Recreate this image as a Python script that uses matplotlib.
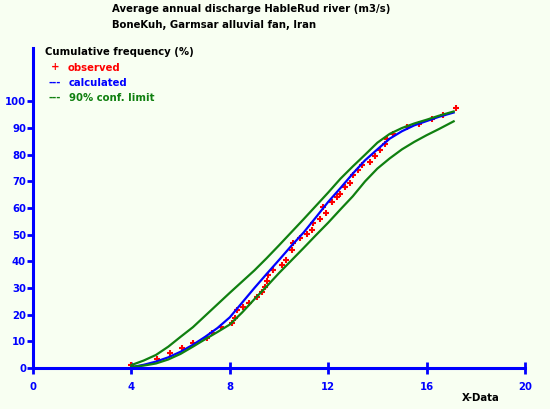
import numpy as np
import matplotlib
matplotlib.use("Agg")
import matplotlib.pyplot as plt

# observed cumulative frequencies (%)
obs_x = [4.0, 5.03, 5.57, 6.04, 6.52, 7.06, 7.26, 7.63, 8.08, 8.21, 8.28, 8.55,
         8.79, 9.09, 9.30, 9.43, 9.50, 9.57, 9.77, 10.11, 10.30, 10.52, 10.58,
         10.85, 11.13, 11.33, 11.39, 11.67, 11.80, 11.90, 12.14, 12.35, 12.48,
         12.68, 12.89, 13.02, 13.23, 13.36, 13.70, 13.90, 14.11, 14.30, 14.38,
         14.65, 15.19, 15.70, 16.20, 16.68, 17.20]
obs_y = [1.3, 3.2, 5.5, 7.4, 9.2, 11.1, 13.3, 15.3, 16.9, 18.6, 21.7, 23.0,
         24.5, 26.7, 28.6, 30.2, 32.5, 34.8, 36.7, 38.7, 40.4, 44.2, 46.7,
         48.6, 50.4, 51.7, 54.2, 56.0, 60.4, 58.2, 62.3, 64.2, 65.4,
         67.9, 69.3, 72.3, 74.2, 76.0, 77.3, 79.4, 81.6, 84.0, 86.0,
         87.9, 90.4, 91.4, 93.3, 95.0, 97.5]

# fitted curve and 90% confidence band
cx = [4, 4.5, 5, 5.5, 6, 6.5, 7, 7.5, 8, 8.5, 9, 9.5, 10, 10.5, 11, 11.5,
      12, 12.5, 13, 13.5, 14, 14.5, 15, 15.5, 16, 16.5, 17.1]
calc = [0.3, 1.2, 2.4, 4.0, 6.1, 8.7, 11.7, 15.0, 19.0, 24.5, 30.0, 35.3,
        40.5, 45.8, 50.8, 56.5, 62.3, 67.5, 72.9, 77.9, 82.0, 86.0, 88.8,
        91.0, 92.6, 94.2, 95.8]
upper = [1.1, 2.8, 4.9, 8.0, 11.7, 15.3, 19.6, 23.9, 28.2, 32.4, 36.6, 41.2,
         46.0, 50.9, 55.8, 60.8, 65.8, 71.0, 75.6, 80.0, 84.5, 87.8, 90.0,
         91.7, 93.1, 94.6, 96.2]
lower = [0.4, 0.9, 1.7, 3.2, 5.3, 8.0, 10.8, 13.5, 16.3, 20.8, 25.8, 30.6,
         35.6, 40.3, 45.0, 49.8, 54.5, 59.5, 64.4, 70.0, 74.8, 78.6, 82.0,
         84.8, 87.3, 89.6, 92.5]

xticks = [0, 4, 8, 12, 16, 20]
yticks = list(range(0, 101, 10))

bg = '#F8FFF2'
green = '#108010'
fs = 7.3

fig = plt.figure(figsize=(5.5, 4.09), dpi=100, facecolor=bg)
ax = fig.add_axes([33/550, 41/409, 492/550, 320/409], facecolor=bg)

# red under blue under green, as in the original
ax.plot(obs_x, obs_y, '+', color='#FF0000', ms=5, mew=1.5, clip_on=False)
ax.plot(cx, calc, color='#0000FF', lw=1.6)
ax.plot(cx, upper, color=green, lw=1.6)
ax.plot(cx, lower, color=green, lw=1.6)

ax.set_xlim(0, 20)
ax.set_ylim(0, 120)
for s in ['top', 'right']:
    ax.spines[s].set_visible(False)
for s in ['left', 'bottom']:
    ax.spines[s].set_color('#0000FF')
    ax.spines[s].set_linewidth(2.2)
ax.set_xticks(xticks)
ax.set_yticks(yticks)
ax.tick_params(axis='x', direction='inout', length=8, width=2, colors='#0000FF',
               labelsize=fs, pad=6)
ax.tick_params(axis='y', direction='out', length=4, width=2, colors='#0000FF',
               labelsize=fs, pad=1)
for lab in ax.get_xticklabels() + ax.get_yticklabels():
    lab.set_fontweight('bold')

def txt(x, y, s, c='black'):
    fig.text(x/550, 1 - y/409, s, color=c, fontsize=fs, fontweight='bold',
             va='top', ha='left')

txt(112, 4, 'Average annual discharge HableRud river (m3/s)')
txt(112, 20, 'BoneKuh, Garmsar alluvial fan, Iran')
txt(45, 47, 'Cumulative frequency (%)')
txt(51, 62, '+', '#FF0000')
txt(68, 63, 'observed', '#FF0000')
txt(48, 78, '---', '#0000FF')
txt(69, 78, 'calculated', '#0000FF')
txt(48, 93, '---', green)
txt(69, 93, '90% conf. limit', green)
txt(462, 393, 'X-Data')

fig.savefig('out.png', dpi=100, facecolor=bg)
